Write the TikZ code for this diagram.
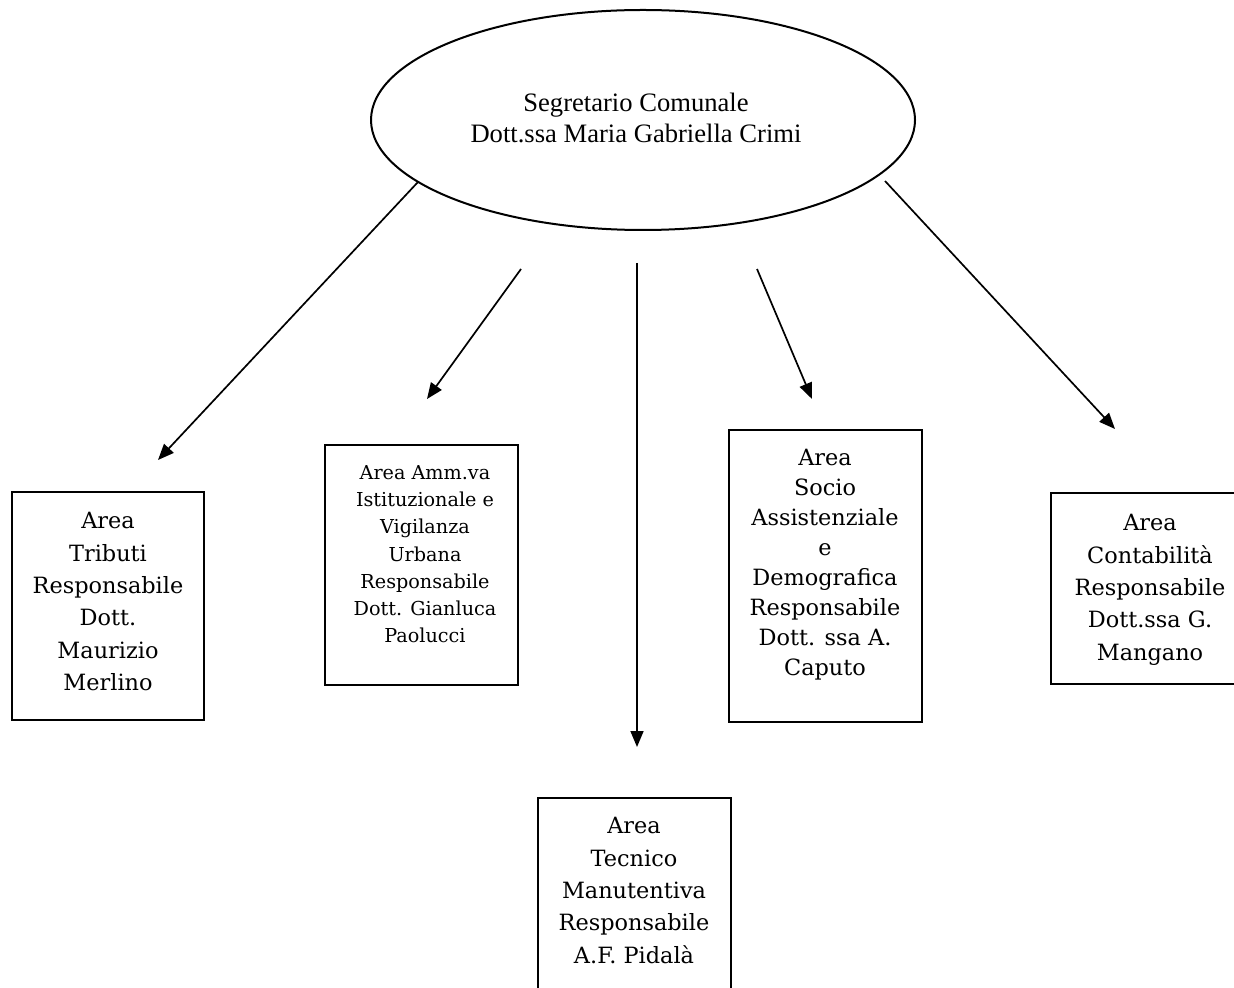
\documentclass[tikz,border=0pt]{standalone}
\usepackage{fontspec}
\setmainfont{Liberation Serif}
\newfontfamily\boxfont{DejaVu Serif}
\usepackage{tikz}
\usetikzlibrary{arrows.meta,shapes.geometric}

\begin{document}
\begin{tikzpicture}[x=.5pt,y=-.5pt]

\tikzstyle{gry}=[line width=1pt,join=miter]
\tikzstyle{arr}=[line width=.85pt,-{Triangle[length=8pt,width=6.5pt]}]
\tikzstyle{txt}=[anchor=north,align=center,inner sep=0pt,
  font=\boxfont\fontsize{11.2}{16.2}\selectfont]

\useasboundingbox (0,0) rectangle (1234,988);

% segretario
\node[gry,draw,ellipse,minimum width=272pt,minimum height=110pt,
  inner sep=0pt] (seg) at (643,120) {};
\node[align=center,inner sep=0pt,font=\fontsize{13.3}{15.5}\selectfont]
  (segtxt) at (636,118) {Segretario Comunale\\Dott.ssa Maria Gabriella Crimi};

% corners of the areas
\node[shape=coordinate] (tul) at (12,492){};
\node[shape=coordinate] (tdr) at (204,720){};
\node[shape=coordinate] (aul) at (325,445){};
\node[shape=coordinate] (adr) at (518,685){};
\node[shape=coordinate] (mul) at (538,798){};
\node[shape=coordinate] (mdr) at (731,1000){};
\node[shape=coordinate] (sul) at (729,430){};
\node[shape=coordinate] (sdr) at (922,722){};
\node[shape=coordinate] (cul) at (1051,493){};
\node[shape=coordinate] (cdr) at (1248,684){};

\draw[gry] (tul) rectangle (tdr);
\draw[gry] (aul) rectangle (adr);
\draw[gry] (mul) rectangle (mdr);
\draw[gry] (sul) rectangle (sdr);
\draw[gry] (cul) rectangle (cdr);

\node[txt] (tributi) at (108,512)
  {Area\\Tributi\\Responsabile\\Dott.\\Maurizio\\Merlino};
\node[txt,font=\boxfont\fontsize{9.6}{13.6}\selectfont] (ammva) at (425,465)
  {Area Amm.va\\Istituzionale e\\Vigilanza\\Urbana\\Responsabile\\Dott. Gianluca\\Paolucci};
\node[txt] (tecnico) at (634,817)
  {Area\\Tecnico\\Manutentiva\\Responsabile\\A.F. Pidalà};
\node[txt,font=\boxfont\fontsize{11.2}{15}\selectfont] (socio) at (825,449)
  {Area\\Socio\\Assistenziale\\e\\Demografica\\Responsabile\\Dott. ssa A.\\Caputo};
\node[txt] (contab) at (1150,514)
  {Area\\Contabilità\\Responsabile\\Dott.ssa G.\\Mangano};

% arrow ends
\node[shape=coordinate] (s1) at (418,182){};
\node[shape=coordinate] (e1) at (158,460){};
\node[shape=coordinate] (s2) at (521,269){};
\node[shape=coordinate] (e2) at (427,399){};
\node[shape=coordinate] (s3) at (637,263){};
\node[shape=coordinate] (e3) at (637,747){};
\node[shape=coordinate] (s4) at (757,269){};
\node[shape=coordinate] (e4) at (812,399){};
\node[shape=coordinate] (s5) at (885,181){};
\node[shape=coordinate] (e5) at (1115,429){};

\draw[arr] (s1)--(e1);
\draw[arr] (s2)--(e2);
\draw[arr] (s3)--(e3);
\draw[arr] (s4)--(e4);
\draw[arr] (s5)--(e5);

\end{tikzpicture}
\end{document}
